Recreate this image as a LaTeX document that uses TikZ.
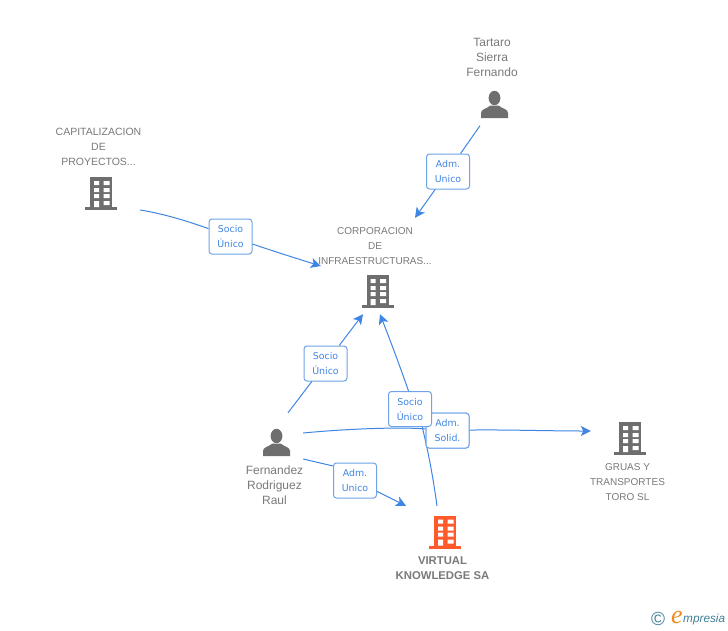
\documentclass[tikz,border=0pt]{standalone}
\usepackage{fontspec}
\setmainfont{Liberation Sans}
\newfontfamily\lblfont{DejaVu Sans}
\newfontfamily\logoserif{Liberation Serif}
\usetikzlibrary{arrows.meta}
\definecolor{icongray}{HTML}{6E6E6E}
\definecolor{textgray}{HTML}{7A7A7A}
\definecolor{linkblue}{HTML}{3F86E4}
\definecolor{boxblue}{HTML}{6FA3E8}
\definecolor{mainorange}{HTML}{FF5A2C}
\definecolor{logoteal}{HTML}{3F7F99}
\definecolor{logoorange}{HTML}{F08A1D}
\tikzset{
  x=1pt,y=-1pt,
  pics/bldg/.style={code={
    \fill[#1] (-11,-16.5) rectangle (11,15);
    \fill[#1] (-16,13.5) rectangle (16,16.5);
    \fill[white] (-7,-12.5) rectangle (-2,-8.5) (2.5,-12.5) rectangle (8.5,-8.5)
      (-7,-5.5) rectangle (-2,-1.5) (2.5,-5.5) rectangle (8.5,-1.5)
      (-7,0.5) rectangle (-2,4.5) (2.5,0.5) rectangle (8.5,4.5)
      (-7,7.5) rectangle (-2,13.5) (2.5,7.5) rectangle (8.5,11.5);
  }},
  pics/person/.style={code={
    \fill[icongray] (0,-6.5) ellipse [x radius=5.9, y radius=7.2];
    \fill[icongray] (-13.5,13.5) -- (-13.5,8.5) .. controls (-13.5,4.5) and (-8,4.5) .. (-4,1)
      -- (4,1) .. controls (8,4.5) and (13.5,4.5) .. (13.5,8.5) -- (13.5,13.5) -- cycle;
  }},
  hit/.style={rectangle,draw=none,inner sep=0pt,minimum width=#1},
  caption/.style={text=textgray,align=center,inner sep=0pt,font=\fontsize{10}{15}\selectfont},
  namecap/.style={text=textgray,align=center,inner sep=0pt,font=\fontsize{12}{15}\selectfont},
  link/.style={draw=linkblue,line width=1pt},
  linkarrow/.style={link,-{Stealth[length=10pt,width=10pt,inset=2.5pt]}},
  tag/.style={rectangle,rounded corners=3pt,draw=boxblue,line width=1pt,fill=white,
    minimum width=43pt,minimum height=35pt,inner sep=0pt,align=center,text=linkblue,
    font=\lblfont\fontsize{9.4}{15}\selectfont}
}
\begin{document}
\begin{tikzpicture}
\useasboundingbox (0,0) rectangle (728,630);
\fill[white] (0,0) rectangle (728,630);

% invisible extents of each entity (icon + caption): connectors stop at their borders
\node[hit=60pt,minimum height=97pt] (tartaro) at (494.5,77) {};
\node[hit=86pt,minimum height=90pt] (capital) at (98,165) {};
\node[hit=116pt,minimum height=94pt] (corp) at (377,267) {};
\node[hit=57pt,minimum height=97pt] (fern) at (274.5,461.5) {};
\node[hit=76pt,minimum height=95pt] (gruas) at (629,462) {};
\node[hit=95pt,minimum height=79pt] (virtual) at (442.5,545.5) {};

% tags
\node[tag] (t1) at (448,171.5) {Adm.\\Unico};
\node[tag] (t2) at (230.5,236.5) {Socio\\Único};
\node[tag] (t3) at (325.5,363.5) {Socio\\Único};
\node[tag] (t6) at (355,480.5) {Adm.\\Unico};

% connectors
\draw[link] ([xshift=-14.5pt]tartaro.south) -- (t1);
\draw[linkarrow] (t1) -- ([xshift=38pt,yshift=2pt]corp.north);
\draw[link] ([xshift=-1pt,yshift=-45pt]capital.east) .. controls (165,214) and (190,222) .. (t2);
\draw[linkarrow] (t2) .. controls (270,250) and (295,258) .. ([xshift=2pt,yshift=1pt]corp.west);
\draw[link] ([xshift=13.5pt]fern.north) -- (t3);
\draw[linkarrow] (t3) -- ([xshift=-14pt]corp.south);
\draw[link] ([yshift=2.5pt]fern.east) -- ([yshift=14.5pt]t6.west);
\draw[linkarrow] (t6) -- ([xshift=-36.5pt]virtual.north);

\node[tag] (t5) at (447.5,430.5) {Adm.\\Solid.};
\draw[link] ([yshift=28.5pt]fern.east) .. controls (350,428.5) and (400,427) .. (t5);
\draw[linkarrow] (t5) .. controls (500,429.5) and (550,431) .. ([yshift=31pt]gruas.west);
\draw[link] ([xshift=-5.5pt]virtual.north) .. controls (432,470) and (427,445) .. (418,410);
\node[tag] at (447.5,430.5) {Adm.\\Solid.};
\node[tag] (t4) at (410,409) {Socio\\Único};
\draw[linkarrow] (t4.north) ++(-1.5,0) .. controls (402,372) and (392,345) .. ([xshift=3pt]corp.south);

% icons
\pic at (101,193.5) {bldg=icongray};
\pic at (377.5,291.5) {bldg=icongray};
\pic at (630,438.5) {bldg=icongray};
\pic at (445,532) {bldg=mainorange};
\pic at (494.5,104.5) {person};
\pic at (276.5,442.5) {person};

% captions
\node[namecap] (c1) at (492,57) {Tartaro\\Sierra\\Fernando};
\node[caption,font=\fontsize{10.5}{15}\selectfont] (c2) at (98.5,147) {CAPITALIZACION\\DE\\PROYECTOS...};
\node[caption] (c3) at (375,246) {CORPORACION\\DE\\INFRAESTRUCTURAS...};
\node[namecap] (c4) at (274.5,485) {Fernandez\\Rodriguez\\Raul};
\node[caption] (c5) at (627.5,482) {GRUAS Y\\TRANSPORTES\\TORO SL};
\node[caption,font=\fontsize{11.3}{15}\bfseries\selectfont] (c6) at (442.5,568) {VIRTUAL\\KNOWLEDGE SA};

% logo
\node[text=logoteal,inner sep=0pt,font=\fontsize{19}{19}\selectfont] (l1) at (658,619) {©};
\node[text=logoorange,inner sep=0pt,font=\logoserif\itshape\fontsize{26}{26}\selectfont] (l2) at (677,617) {e};
\node[text=logoteal,inner sep=0pt,anchor=west,font=\itshape\fontsize{11.8}{12}\selectfont] (l3) at (683,619) {mpresia};
\end{tikzpicture}
\end{document}
